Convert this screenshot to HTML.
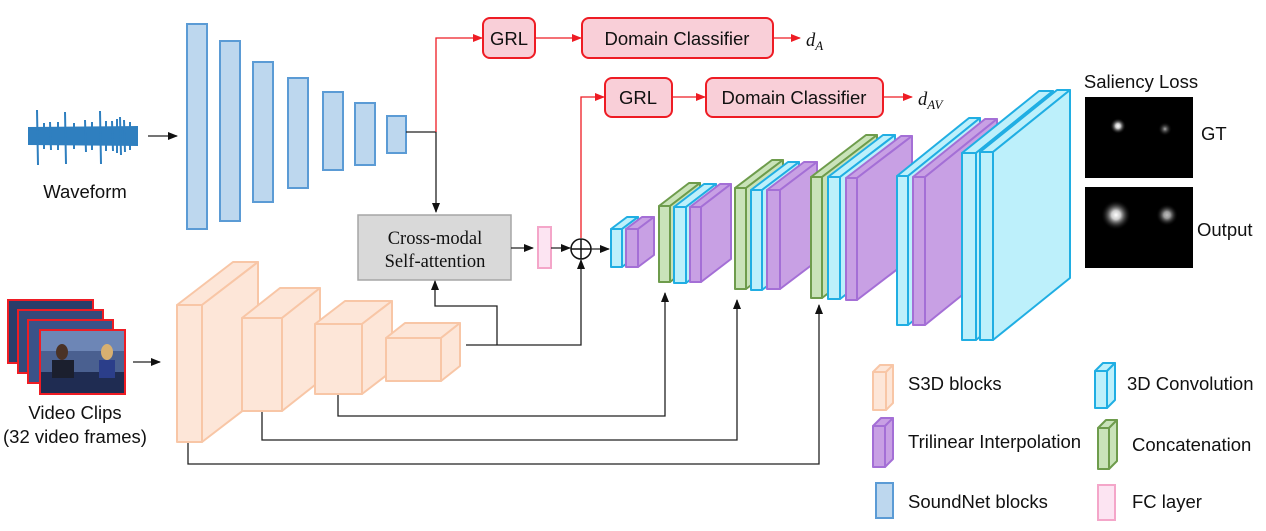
<!DOCTYPE html>
<html><head><meta charset="utf-8"><style>
html,body{margin:0;padding:0;background:#fff;}
svg{display:block;font-family:"Liberation Sans",sans-serif;}
.s3d{fill:#fde6d8;stroke:#f8c6a6;stroke-width:2;stroke-linejoin:round}
.sn{fill:#bdd7ee;stroke:#5b9bd5;stroke-width:2}
.cy{fill:#bdf0fb;stroke:#20aee3;stroke-width:2;stroke-linejoin:round}
.pu{fill:#c8a0e4;stroke:#a46fd6;stroke-width:2;stroke-linejoin:round}
.gr{fill:#c9e3b9;stroke:#6e9c4c;stroke-width:2;stroke-linejoin:round}
.red{fill:#f9cfd8;stroke:#ee1c24;stroke-width:2}
.ln{stroke:#222;stroke-width:1.3;fill:none}
.rl{stroke:#ee1c24;stroke-width:1.3;fill:none}
text{font-size:18.5px;fill:#111}
</style></head><body>
<svg width="1266" height="531" viewBox="0 0 1266 531">
<defs>
<marker id="ab" markerWidth="10" markerHeight="8" refX="9" refY="4" orient="auto" markerUnits="userSpaceOnUse"><path d="M0,0 L10,4 L0,8z" fill="#111"/></marker>
<marker id="ar" markerWidth="10" markerHeight="8" refX="9" refY="4" orient="auto" markerUnits="userSpaceOnUse"><path d="M0,0 L10,4 L0,8z" fill="#ee1c24"/></marker>
<radialGradient id="blob"><stop offset="0" stop-color="#fff"/><stop offset="0.3" stop-color="#ccc"/><stop offset="1" stop-color="#000" stop-opacity="0"/></radialGradient>
<radialGradient id="blob2"><stop offset="0" stop-color="#aaa"/><stop offset="1" stop-color="#000" stop-opacity="0"/></radialGradient>
</defs>

<!-- waveform -->
<path d="M28,127 L138,126 L138,146 L28,145z" fill="#2f7fbf"/>
<path d="M37,110 L38,165 M65,112 L66,164 M100,111 L101,164 M120,117 L121,155 M124,120 L125,152 M85,120 L86,152 M50,122 L51,150 M112,121 L113,151 M44,123 L44,149 M58,122 L58,150 M74,123 L74,149 M92,122 L92,150 M106,121 L106,151 M130,122 L130,150 M117,119 L117,153" stroke="#2f7fbf" stroke-width="2"/>
<text x="85" y="198" text-anchor="middle">Waveform</text>
<line class="ln" x1="148" y1="136" x2="177" y2="136" marker-end="url(#ab)"/>

<!-- SoundNet -->
<rect class="sn" x="187" y="24" width="20" height="205"/>
<rect class="sn" x="220" y="41" width="20" height="180"/>
<rect class="sn" x="253" y="62" width="20" height="140"/>
<rect class="sn" x="288" y="78" width="20" height="110"/>
<rect class="sn" x="323" y="92" width="20" height="78"/>
<rect class="sn" x="355" y="103" width="20" height="62"/>
<rect class="sn" x="387" y="116" width="19" height="37"/>

<polyline class="ln" points="406,132 436,132 436,212" marker-end="url(#ab)"/>
<polyline class="rl" points="436,132 436,38 482,38" marker-end="url(#ar)"/>
<rect class="red" x="483" y="18" width="52" height="40" rx="7"/>
<text x="509" y="45" text-anchor="middle">GRL</text>
<line class="rl" x1="535" y1="38" x2="581" y2="38" marker-end="url(#ar)"/>
<rect class="red" x="582" y="18" width="191" height="40" rx="7"/>
<text x="677" y="45" text-anchor="middle" font-size="20">Domain Classifier</text>
<line class="rl" x1="773" y1="38" x2="800" y2="38" marker-end="url(#ar)"/>
<text x="806" y="46" font-family="Liberation Serif" font-style="italic" font-size="18">d<tspan font-size="13" dy="4">A</tspan></text>

<polyline class="rl" points="581,238 581,97 604,97" marker-end="url(#ar)"/>
<rect class="red" x="605" y="78" width="67" height="39" rx="7"/>
<text x="638" y="104" text-anchor="middle">GRL</text>
<line class="rl" x1="672" y1="97" x2="705" y2="97" marker-end="url(#ar)"/>
<rect class="red" x="706" y="78" width="177" height="39" rx="7"/>
<text x="794" y="104" text-anchor="middle" font-size="19.5">Domain Classifier</text>
<line class="rl" x1="883" y1="97" x2="912" y2="97" marker-end="url(#ar)"/>
<text x="918" y="105" font-family="Liberation Serif" font-style="italic" font-size="18">d<tspan font-size="13" dy="4">AV</tspan></text>

<!-- cross modal -->
<rect x="358" y="215" width="153" height="65" fill="#d9d9d9" stroke="#a6a6a6" stroke-width="1.5"/>
<text x="435" y="244" text-anchor="middle" font-family="Liberation Serif" font-size="18">Cross-modal</text>
<text x="435" y="267" text-anchor="middle" font-family="Liberation Serif" font-size="18">Self-attention</text>
<line class="ln" x1="511" y1="248" x2="533" y2="248" marker-end="url(#ab)"/>
<rect x="538" y="227" width="13" height="41" fill="#fce4f2" stroke="#f4a6c9" stroke-width="2"/>
<line class="ln" x1="551" y1="248" x2="570" y2="248" marker-end="url(#ab)"/>
<circle cx="581" cy="249" r="10" fill="#fff" stroke="#111" stroke-width="1.5"/>
<path d="M571,249 H591 M581,239 V259" stroke="#111" stroke-width="1.5"/>
<line class="ln" x1="591" y1="249" x2="609" y2="249" marker-end="url(#ab)"/>

<!-- connectors below -->
<polyline class="ln" points="466,345 581,345 581,260" marker-end="url(#ab)"/>
<polyline class="ln" points="497,345 497,306 435,306 435,281" marker-end="url(#ab)"/>
<polyline class="ln" points="338,394 338,416 665,416 665,293" marker-end="url(#ab)"/>
<polyline class="ln" points="262,412 262,440 737,440 737,300" marker-end="url(#ab)"/>
<polyline class="ln" points="188,443 188,464 819,464 819,305" marker-end="url(#ab)"/>

<!-- video frames -->
<g stroke="#ee1c24" stroke-width="2">
<rect x="8" y="300" width="85" height="63" fill="#2a3d6a"/>
<rect x="18" y="310" width="85" height="63" fill="#34497a"/>
<rect x="28" y="320" width="85" height="63" fill="#3b5288"/>
<rect x="40" y="330" width="85" height="64" fill="#4a6090"/>
</g>
<rect x="41" y="331" width="83" height="20" fill="#6d86b6"/>
<rect x="41" y="372" width="83" height="21" fill="#1f2c52"/>
<ellipse cx="62" cy="352" rx="6" ry="8" fill="#4a3226"/>
<rect x="52" y="360" width="22" height="18" fill="#1b1f2e"/>
<ellipse cx="107" cy="352" rx="6" ry="8" fill="#d8b070"/>
<rect x="99" y="360" width="16" height="18" fill="#2b3e8a"/>
<line class="ln" x1="133" y1="362" x2="160" y2="362" marker-end="url(#ab)"/>
<text x="75" y="419" text-anchor="middle" font-size="18">Video Clips</text>
<text x="75" y="443" text-anchor="middle" font-size="18">(32 video frames)</text>

<!-- S3D blocks -->
<g class="s3d">
<polygon points="177,305 233,262 258,262 202,305"/><polygon points="202,305 258,262 258,399 202,442"/><rect x="177" y="305" width="25" height="137"/>
<polygon points="242,318 280,288 320,288 282,318"/><polygon points="282,318 320,288 320,381 282,411"/><rect x="242" y="318" width="40" height="93"/>
<polygon points="315,324 345,301 392,301 362,324"/><polygon points="362,324 392,301 392,371 362,394"/><rect x="315" y="324" width="47" height="70"/>
<polygon points="386,338 405,323 460,323 441,338"/><polygon points="441,338 460,323 460,366 441,381"/><rect x="386" y="338" width="55" height="43"/>
</g>

<!-- decoder -->
<g class="cy"><polygon points="611,229 627,217 638,217 622,229"/><polygon points="622,229 638,217 638,255 622,267"/><rect x="611" y="229" width="11" height="38"/></g>
<g class="pu"><polygon points="626,229 642,217 654,217 638,229"/><polygon points="638,229 654,217 654,255 638,267"/><rect x="626" y="229" width="12" height="38"/></g>

<g class="gr"><polygon points="659,206 689,183 700,183 670,206"/><polygon points="670,206 700,183 700,259 670,282"/><rect x="659" y="206" width="11" height="76"/></g>
<g class="cy"><polygon points="674,207 704,184 716,184 686,207"/><polygon points="686,207 716,184 716,260 686,283"/><rect x="674" y="207" width="12" height="76"/></g>
<g class="pu"><polygon points="690,207 720,184 731,184 701,207"/><polygon points="701,207 731,184 731,259 701,282"/><rect x="690" y="207" width="11" height="75"/></g>

<g class="gr"><polygon points="735,188 772,160 783,160 746,188"/><polygon points="746,188 783,160 783,261 746,289"/><rect x="735" y="188" width="11" height="101"/></g>
<g class="cy"><polygon points="751,190 788,162 799,162 762,190"/><polygon points="762,190 799,162 799,262 762,290"/><rect x="751" y="190" width="11" height="100"/></g>
<g class="pu"><polygon points="767,190 804,162 817,162 780,190"/><polygon points="780,190 817,162 817,261 780,289"/><rect x="767" y="190" width="13" height="99"/></g>

<g class="gr"><polygon points="811,177 866,135 877,135 822,177"/><polygon points="822,177 877,135 877,256 822,298"/><rect x="811" y="177" width="11" height="121"/></g>
<g class="cy"><polygon points="828,177 883,135 895,135 840,177"/><polygon points="840,177 895,135 895,257 840,299"/><rect x="828" y="177" width="12" height="122"/></g>
<g class="pu"><polygon points="846,178 901,136 912,136 857,178"/><polygon points="857,178 912,136 912,258 857,300"/><rect x="846" y="178" width="11" height="122"/></g>

<g class="cy"><polygon points="897,176 969,118 980,118 908,176"/><polygon points="908,176 980,118 980,267 908,325"/><rect x="897" y="176" width="11" height="149"/></g>
<g class="pu"><polygon points="913,177 985,119 997,119 925,177"/><polygon points="925,177 997,119 997,267 925,325"/><rect x="913" y="177" width="12" height="148"/></g>

<g class="cy"><polygon points="962,153 1039,91 1053,91 976,153"/><polygon points="976,153 1053,91 1053,278 976,340"/><rect x="962" y="153" width="14" height="187"/></g>
<g class="cy"><polygon points="980,152 1057,90 1070,90 993,152"/><polygon points="993,152 1070,90 1070,278 993,340"/><rect x="980" y="152" width="13" height="188"/></g>

<!-- saliency -->
<text x="1141" y="88" text-anchor="middle" font-size="17">Saliency Loss</text>
<rect x="1085" y="97" width="108" height="81" fill="#000"/>
<circle cx="1118" cy="126" r="8" fill="url(#blob)"/>
<circle cx="1165" cy="129" r="7" fill="url(#blob2)"/>
<text x="1201" y="140">GT</text>
<rect x="1085" y="187" width="108" height="81" fill="#000"/>
<circle cx="1116" cy="215" r="15" fill="url(#blob)"/>
<circle cx="1167" cy="215" r="11" fill="url(#blob)" opacity="0.75"/>
<text x="1197" y="236">Output</text>

<!-- legend -->
<g class="s3d"><polygon points="873,372 880,365 893,365 886,372"/><polygon points="886,372 893,365 893,403 886,410"/><rect x="873" y="372" width="13" height="38"/></g>
<text x="908" y="390">S3D blocks</text>
<g class="pu"><polygon points="873,426 881,418 893,418 885,426"/><polygon points="885,426 893,418 893,459 885,467"/><rect x="873" y="426" width="12" height="41"/></g>
<text x="908" y="448">Trilinear Interpolation</text>
<rect class="sn" x="876" y="483" width="17" height="35"/>
<text x="908" y="508">SoundNet blocks</text>
<g class="cy"><polygon points="1095,371 1103,363 1115,363 1107,371"/><polygon points="1107,371 1115,363 1115,400 1107,408"/><rect x="1095" y="371" width="12" height="37"/></g>
<text x="1127" y="390">3D Convolution</text>
<g class="gr"><polygon points="1098,428 1106,420 1117,420 1109,428"/><polygon points="1109,428 1117,420 1117,461 1109,469"/><rect x="1098" y="428" width="11" height="41"/></g>
<text x="1132" y="451">Concatenation</text>
<rect x="1098" y="485" width="17" height="35" fill="#fce4f2" stroke="#f4a6c9" stroke-width="2"/>
<text x="1132" y="508">FC layer</text>
</svg>
</body></html>
